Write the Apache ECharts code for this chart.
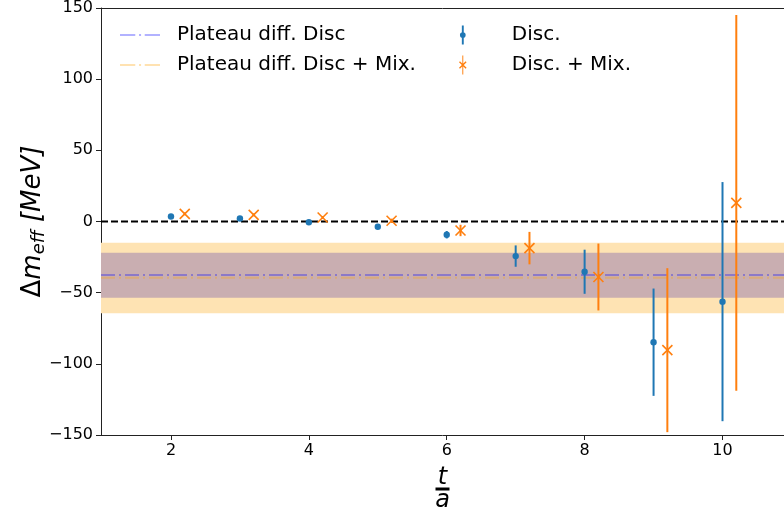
<!DOCTYPE html>
<html>
<head>
<meta charset="utf-8">
<script src="https://cdn.jsdelivr.net/npm/echarts@6/dist/echarts.min.js"></script>
<style>
  html, body { margin: 0; padding: 0; background: #fff; }
  #chart { width: 784px; height: 518px; }
</style>
</head>
<body>
<div id="chart"></div>
<script>
// t/a positions and effective mass differences (MeV)
const tDisc = [2, 3, 4, 5, 6, 7, 8, 9, 10];
const disc = [3.5, 2.1, -0.5, -3.7, -9.3, -24.3, -35.3, -84.8, -56.3];
const discErr = [0.8, 0.8, 0.8, 1.2, 2.6, 7.5, 15.5, 37.7, 84];

const tMix = [2.2, 3.2, 4.2, 5.2, 6.2, 7.2, 8.2, 9.2, 10.2];
const mix = [5.4, 4.7, 2.8, 0.5, -6.3, -18.7, -39, -90.4, 13.1];
const mixErr = [1, 1, 1, 1.5, 4, 11.4, 23.5, 57.6, 132];

// plateau fits: centre, band low, band high
const plateauDisc = [-37.6, -53.5, -22];
const plateauMix = [-39.5, -64.5, -15];

const xTicks = [2, 4, 6, 8, 10];
const yRange = [-150, 150];
const xRange = [0.985, 10.892];

const BLUE = "#1f77b4";
const ORANGE = "#ff7f0e";
const FONT = "DejaVu Sans";
const DASHDOT = "path://M0,0h15v2h-15Z M18.7,0h2v2h-2Z M24.3,0h15v2h-15Z";

function errBars(kind, color) {
    return function (params, api) {
        var x = api.value(0), y = api.value(1), e = api.value(2);
        var top = api.coord([x, y + e]);
        var bot = api.coord([x, y - e]);
        var c = api.coord([x, y]);
        var kids = [
            {
                type: "line",
                shape: { x1: top[0], y1: top[1], x2: bot[0], y2: bot[1] },
                style: { stroke: color, lineWidth: 2 }
            }
        ];
        if (kind === "dot") {
            kids.push({
                type: "circle",
                shape: { cx: c[0], cy: c[1], r: 3.2 },
                style: { fill: color }
            });
        } else {
            var s = 5;
            kids.push({
                type: "line",
                shape: { x1: c[0] - s, y1: c[1] - s, x2: c[0] + s, y2: c[1] + s },
                style: { stroke: color, lineWidth: 1.6 }
            });
            kids.push({
                type: "line",
                shape: { x1: c[0] - s, y1: c[1] + s, x2: c[0] + s, y2: c[1] - s },
                style: { stroke: color, lineWidth: 1.6 }
            });
        }
        return { type: "group", children: kids };
    };
}

const chart = echarts.init(document.getElementById("chart"));
chart.setOption({
    animation: false,
    textStyle: { fontFamily: FONT },
    legend: [
        {
            orient: "vertical",
            left: 120,
            top: 25,
            padding: 0,
            itemWidth: 40,
            itemHeight: 19,
            itemGap: 10,
            textStyle: { fontSize: 20, color: "#000", padding: [0, 0, 0, 12] },
            data: [
                { name: "Plateau diff. Disc", icon: DASHDOT, itemStyle: { color: "#b2b2ff" } },
                { name: "Plateau diff. Disc + Mix.", icon: DASHDOT, itemStyle: { color: "#ffe2b1" } }
            ]
        },
        {
            orient: "vertical",
            left: 459,
            top: 25,
            padding: 0,
            itemWidth: 30,
            itemHeight: 19,
            itemGap: 10,
            textStyle: { fontSize: 20, color: "#000", padding: [0, 0, 0, 29] },
            data: [
                {
                    name: "Disc.",
                    icon: "path://M8,0 h4 v40 h-4 Z M10,14 a6,6 0 1,1 0,12 a6,6 0 1,1 0,-12 Z",
                    itemStyle: { color: BLUE }
                },
                {
                    name: "Disc. + Mix.",
                    icon: "path://M9,0 h2 v40 h-2 Z M2,14 L4,12 L18,26 L16,28 Z M16,12 L18,14 L4,28 L2,26 Z",
                    itemStyle: { color: ORANGE }
                }
            ]
        }
    ],
    grid: { left: 101, right: 0, top: 8, bottom: 82 },
    xAxis: [
        {
            type: "value",
            min: xRange[0],
            max: xRange[1],
            name: "{t|t}\n{bar|}\n{a|a}",
            nameLocation: "middle",
            nameGap: 34,
            nameMoveOverlap: false,
            nameTextStyle: {
                rich: {
                    t: { fontSize: 24, fontStyle: "italic", color: "#000", lineHeight: 18, align: "center" },
                    bar: { width: 14, height: 3, backgroundColor: "#000", lineHeight: 4, align: "center" },
                    a: { fontSize: 24, fontStyle: "italic", color: "#000", lineHeight: 20, align: "center" }
                }
            },
            axisLine: { show: true, onZero: false, lineStyle: { color: "#222", width: 1 } },
            axisTick: { show: true, length: 5, customValues: xTicks, lineStyle: { color: "#222" } },
            axisLabel: { customValues: xTicks, fontSize: 16, color: "#000", margin: 8 },
            splitLine: { show: false }
        },
        {
            type: "value",
            position: "top",
            min: xRange[0],
            max: xRange[1],
            axisLine: { show: true, onZero: false, lineStyle: { color: "#222", width: 1 } },
            axisTick: { show: false },
            axisLabel: { show: false },
            splitLine: { show: false }
        }
    ],
    yAxis: {
        type: "value",
        min: yRange[0],
        max: yRange[1],
        interval: 50,
        name: "{d|Δ}{m|m}{s|eff}{m| [MeV]}",
        nameLocation: "middle",
        nameRotate: 90,
        nameGap: 53,
        nameMoveOverlap: false,
        nameTextStyle: {
            rich: {
                d: { fontSize: 26, color: "#000" },
                m: { fontSize: 26, fontStyle: "italic", color: "#000" },
                s: { fontSize: 18, fontStyle: "italic", color: "#000", padding: [12, 0, 0, 0] }
            }
        },
        axisLine: { show: true, onZero: false, lineStyle: { color: "#222", width: 1 } },
        axisTick: { show: true, length: 5, lineStyle: { color: "#222" } },
        axisLabel: {
            fontSize: 16,
            color: "#000",
            margin: 8,
            formatter: function (v) { return v < 0 ? "\u2212" + Math.abs(v) : String(v); }
        },
        splitLine: { show: false }
    },
    series: [
        {
            name: "bands",
            type: "line",
            data: [],
            silent: true,
            z: 1,
            markArea: {
                silent: true,
                data: [
                    [{ yAxis: plateauMix[1], itemStyle: { color: "#fee3b3" } }, { yAxis: plateauMix[2] }],
                    [{ yAxis: plateauDisc[1], itemStyle: { color: "#c9aeb1" } }, { yAxis: plateauDisc[2] }]
                ]
            }
        },
        {
            name: "Plateau diff. Disc + Mix.",
            type: "line",
            z: 3,
            showSymbol: false,
            symbol: "none",
            color: "rgba(255,165,0,0.3)",
            lineStyle: { width: 2, type: [14, 4, 2, 4], color: "rgba(255,165,0,0.3)" },
            data: [[xRange[0], plateauMix[0]], [xRange[1], plateauMix[0]]]
        },
        {
            name: "Plateau diff. Disc",
            type: "line",
            z: 3,
            showSymbol: false,
            symbol: "none",
            color: "rgba(0,0,255,0.3)",
            lineStyle: { width: 2, type: [14, 4, 2, 4], color: "rgba(0,0,255,0.3)" },
            data: [[xRange[0], plateauDisc[0]], [xRange[1], plateauDisc[0]]]
        },
        {
            name: "zero",
            type: "line",
            z: 4,
            showSymbol: false,
            symbol: "none",
            lineStyle: { width: 2, type: [7, 3], color: "#000" },
            data: [[xRange[0], 0], [xRange[1], 0]]
        },
        {
            name: "Disc.",
            type: "custom",
            z: 5,
            itemStyle: { color: BLUE },
            encode: { x: 0, y: 1 },
            renderItem: errBars("dot", BLUE),
            data: tDisc.map(function (t, i) { return [t, disc[i], discErr[i]]; })
        },
        {
            name: "Disc. + Mix.",
            type: "custom",
            z: 5,
            itemStyle: { color: ORANGE },
            encode: { x: 0, y: 1 },
            renderItem: errBars("x", ORANGE),
            data: tMix.map(function (t, i) { return [t, mix[i], mixErr[i]]; })
        }
    ]
});
</script>
</body>
</html>
